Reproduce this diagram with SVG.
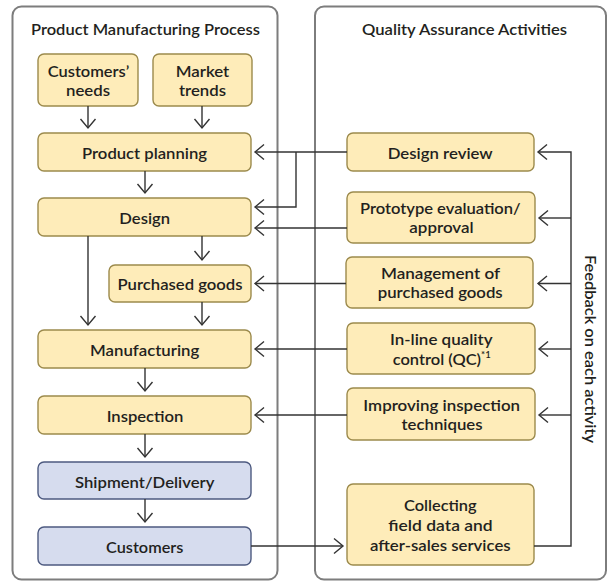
<svg xmlns="http://www.w3.org/2000/svg" width="612" height="582" viewBox="0 0 612 582">
<defs>
<style>
.panel{fill:#fff;stroke:#7d7d7d;stroke-width:2}
.y{fill:#FEECB9;stroke:#9C8A4C;stroke-width:1.4}
.b{fill:#D6DCEE;stroke:#4D5A80;stroke-width:1.4}
text{font-family:Lato,"Open Sans","Liberation Sans",sans-serif;font-weight:600;font-size:15.5px;fill:#231F20}
.t{text-anchor:middle}
.c{fill:none;stroke:#333;stroke-width:1.4}
</style>
<marker id="a" viewBox="-10 -10 20 20" markerWidth="20" markerHeight="20" refX="0" refY="0" orient="auto" markerUnits="userSpaceOnUse">
<path d="M-9,-7.5 L0,0 L-9,7.5" fill="none" stroke="#333" stroke-width="1.4"/>
</marker>
</defs>
<g id="panel-left">
<rect class="panel" x="12.5" y="6.5" width="265" height="573" rx="9"/>
<text class="t" x="145.5" y="35" textLength="229" lengthAdjust="spacingAndGlyphs">Product Manufacturing Process</text>
</g>
<g id="panel-right">
<rect class="panel" x="315" y="6.5" width="291" height="573" rx="9"/>
<text class="t" x="464.5" y="35" textLength="205" lengthAdjust="spacingAndGlyphs">Quality Assurance Activities</text>
<text class="t" transform="translate(585,349) rotate(90)" x="0" y="0" textLength="188" lengthAdjust="spacingAndGlyphs">Feedback on each activity</text>
</g>
<g id="customers-needs">
<rect class="y" x="38" y="54" width="100" height="52" rx="6"/>
<text class="t" x="88.5" y="76.5" textLength="81.6" lengthAdjust="spacingAndGlyphs">Customers’</text>
<text class="t" x="88" y="95.5" textLength="44" lengthAdjust="spacingAndGlyphs">needs</text>
</g>
<g id="market-trends">
<rect class="y" x="153" y="54" width="99" height="52" rx="6"/>
<text class="t" x="202.5" y="76.5" textLength="53.6" lengthAdjust="spacingAndGlyphs">Market</text>
<text class="t" x="202.5" y="95.5" textLength="47" lengthAdjust="spacingAndGlyphs">trends</text>
</g>
<g id="product-planning">
<rect class="y" x="38" y="133" width="213" height="38" rx="6"/>
<text class="t" x="144.5" y="158.5" textLength="125" lengthAdjust="spacingAndGlyphs">Product planning</text>
</g>
<g id="design">
<rect class="y" x="38" y="198" width="213" height="38" rx="6"/>
<text class="t" x="144.7" y="224" textLength="50.7" lengthAdjust="spacingAndGlyphs">Design</text>
</g>
<g id="purchased-goods">
<rect class="y" x="109" y="265" width="142" height="37" rx="6"/>
<text class="t" x="180" y="290" textLength="125" lengthAdjust="spacingAndGlyphs">Purchased goods</text>
</g>
<g id="manufacturing">
<rect class="y" x="38" y="330" width="213" height="38" rx="6"/>
<text class="t" x="144.7" y="355.5" textLength="109.3" lengthAdjust="spacingAndGlyphs">Manufacturing</text>
</g>
<g id="inspection">
<rect class="y" x="38" y="396" width="213" height="38" rx="6"/>
<text class="t" x="145" y="421.5" textLength="76.7" lengthAdjust="spacingAndGlyphs">Inspection</text>
</g>
<g id="shipment">
<rect class="b" x="38" y="462" width="213" height="37" rx="6"/>
<text class="t" x="144.7" y="487.5" textLength="139.3" lengthAdjust="spacingAndGlyphs">Shipment/Delivery</text>
</g>
<g id="customers">
<rect class="b" x="38" y="527" width="213" height="38" rx="6"/>
<text class="t" x="144.7" y="552.5" textLength="77.3" lengthAdjust="spacingAndGlyphs">Customers</text>
</g>
<g id="design-review">
<rect class="y" x="347" y="133" width="187" height="38" rx="6"/>
<text class="t" x="440.2" y="158.5" textLength="105" lengthAdjust="spacingAndGlyphs">Design review</text>
</g>
<g id="prototype-evaluation">
<rect class="y" x="347" y="192" width="188" height="51" rx="6"/>
<text class="t" x="440.3" y="214" textLength="160.7" lengthAdjust="spacingAndGlyphs">Prototype evaluation/</text>
<text class="t" x="441.5" y="233" textLength="64.3" lengthAdjust="spacingAndGlyphs">approval</text>
</g>
<g id="management-purchased">
<rect class="y" x="346" y="257" width="187" height="51" rx="6"/>
<text class="t" x="440.5" y="278.5" textLength="119" lengthAdjust="spacingAndGlyphs">Management of</text>
<text class="t" x="440.2" y="297.5" textLength="125" lengthAdjust="spacingAndGlyphs">purchased goods</text>
</g>
<g id="inline-qc">
<rect class="y" x="347" y="323" width="188" height="51" rx="6"/>
<text class="t" x="441.3" y="345" textLength="102.7" lengthAdjust="spacingAndGlyphs">In-line quality</text>
<text x="392.7" y="364.5" textLength="98" lengthAdjust="spacingAndGlyphs">control (QC)<tspan dy="-6.5" style="font-size:9px">*1</tspan></text>
</g>
<g id="improving-inspection">
<rect class="y" x="347" y="388" width="188" height="52" rx="6"/>
<text class="t" x="441.7" y="410.5" textLength="156.7" lengthAdjust="spacingAndGlyphs">Improving inspection</text>
<text class="t" x="442" y="430" textLength="81" lengthAdjust="spacingAndGlyphs">techniques</text>
</g>
<g id="collecting-field-data">
<rect class="y" x="347" y="484" width="187" height="81" rx="6"/>
<text class="t" x="440.3" y="511" textLength="72.7" lengthAdjust="spacingAndGlyphs">Collecting</text>
<text class="t" x="440.5" y="530.5" textLength="104.3" lengthAdjust="spacingAndGlyphs">field data and</text>
<text class="t" x="440.3" y="550.5" textLength="140.7" lengthAdjust="spacingAndGlyphs">after-sales services</text>
</g>
<g id="connectors">
<path class="c" d="M88,106V128" marker-end="url(#a)"/>
<path class="c" d="M202,106V128" marker-end="url(#a)"/>
<path class="c" d="M145,171V193" marker-end="url(#a)"/>
<path class="c" d="M202,236V260" marker-end="url(#a)"/>
<path class="c" d="M88,236V325" marker-end="url(#a)"/>
<path class="c" d="M202,302V325" marker-end="url(#a)"/>
<path class="c" d="M145,368V391" marker-end="url(#a)"/>
<path class="c" d="M145,434V457" marker-end="url(#a)"/>
<path class="c" d="M145,499V522" marker-end="url(#a)"/>
<path class="c" d="M347,152H255" marker-end="url(#a)"/>
<path class="c" d="M296,152V207H255" marker-end="url(#a)"/>
<path class="c" d="M347,228H255" marker-end="url(#a)"/>
<path class="c" d="M346,283.5H255" marker-end="url(#a)"/>
<path class="c" d="M347,349H255" marker-end="url(#a)"/>
<path class="c" d="M347,415H255" marker-end="url(#a)"/>
<path class="c" d="M251,546H343" marker-end="url(#a)"/>
<path class="c" d="M534,546H571V152H538" marker-end="url(#a)"/>
<path class="c" d="M571,218H539" marker-end="url(#a)"/>
<path class="c" d="M571,283.5H538" marker-end="url(#a)"/>
<path class="c" d="M571,349H539" marker-end="url(#a)"/>
<path class="c" d="M571,415H539" marker-end="url(#a)"/>
</g>
</svg>
